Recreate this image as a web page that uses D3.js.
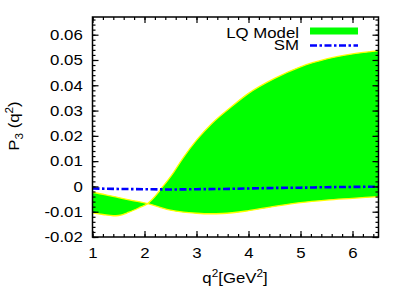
<!DOCTYPE html>
<html><head><meta charset="utf-8">
<script src="https://cdn.jsdelivr.net/npm/d3@7"></script>
<style>body{margin:0;background:#fff}svg text{font-family:"Liberation Sans",Arial,sans-serif;fill:#000}</style>
</head><body><svg id="c" width="409" height="300"></svg>
<script>
// Data
const qA = [1.0, 1.25, 1.5, 1.75, 2.06, 2.3, 2.5, 2.75, 3.0, 3.25, 3.5, 4.0, 4.5, 5.0, 5.5, 6.0, 6.5];
const curveA = [-0.0023, -0.0033, -0.0044, -0.0055, -0.0068, -0.0083, -0.0094, -0.0102, -0.0106, -0.0108, -0.0107, -0.0096, -0.0079, -0.0064, -0.0054, -0.0047, -0.0040];
const qB = [1.0, 1.2, 1.4, 1.5, 1.7, 1.9, 2.06, 2.2, 2.32, 2.54, 2.75, 3.0, 3.3, 3.67, 4.0, 4.5, 5.0, 5.5, 6.0, 6.5];
const curveB = [-0.0105, -0.0111, -0.0116, -0.0115, -0.0102, -0.0084, -0.0068, -0.0040, -0.0009, 0.0050, 0.0115, 0.0183, 0.0250, 0.0315, 0.0368, 0.0427, 0.0473, 0.0504, 0.0524, 0.0537];
const qSM = [1.0, 1.5, 2.0, 2.5, 3.0, 3.5, 4.0, 4.5, 5.0, 5.5, 6.0, 6.5];
const sm = [-0.0008, -0.0010, -0.0011, -0.0012, -0.0011, -0.0010, -0.0008, -0.0006, -0.0005, -0.0003, -0.0002, -0.0001];
const xTicks = [1, 2, 3, 4, 5, 6];
const yTicks = [-0.02, -0.01, 0, 0.01, 0.02, 0.03, 0.04, 0.05, 0.06];
const yTickLabels = ["-0.02", "-0.01", "0", "0.01", "0.02", "0.03", "0.04", "0.05", "0.06"];
const legendLabels = ["LQ Model", "SM"];

const SX = 1.12; // horizontal stretch of the reference's text
const FS = "15px";
const svg = d3.select("#c");
const L = 92.5, R = 378.5, T = 17, B = 237;
const x = d3.scaleLinear().domain([1, 6.5]).range([L, R]);
const y = d3.scaleLinear().domain([-0.02, 0.067]).range([B, T]);

svg.append("defs").append("clipPath").attr("id", "clip")
  .append("rect").attr("x", L).attr("y", T).attr("width", R - L).attr("height", B - T);

const g = svg.append("g").attr("clip-path", "url(#clip)");
const ptsA = qA.map((q, i) => [x(q), y(curveA[i])]);
const ptsB = qB.map((q, i) => [x(q), y(curveB[i])]);
const ln = d3.line().curve(d3.curveMonotoneX);
const pA = ln(ptsA);
const pBrev = d3.line().curve(d3.curveCatmullRom)(ptsB.slice().reverse());
g.append("path").attr("d", pA + "L" + pBrev.slice(1) + "Z")
  .attr("fill", "#00ff00").attr("stroke", "none");
g.append("path").attr("d", ln(ptsA)).attr("fill", "none").attr("stroke", "#ffff00").attr("stroke-width", 1.3);
g.append("path").attr("d", ln(ptsB)).attr("fill", "none").attr("stroke", "#ffff00").attr("stroke-width", 1.3);

// SM line
g.append("path").attr("d", d3.line().curve(d3.curveMonotoneX)(qSM.map((q, i) => [x(q), y(sm[i])])))
  .attr("fill", "none").attr("stroke", "#0000ff").attr("stroke-width", 2.6)
  .attr("stroke-dasharray", "7,2.5,2.5,2.5");

// Axes (ticks inward on all sides)
const axB = d3.axisBottom(x).tickValues(xTicks).tickSize(-6).tickPadding(10.5).tickFormat(d3.format("d"));
const axT = d3.axisTop(x).tickValues(xTicks).tickSize(-6).tickFormat("");
const axL = d3.axisLeft(y).tickValues(yTicks).tickSize(-6).tickPadding(8.7).tickFormat((d, i) => yTickLabels[i]);
const axR = d3.axisRight(y).tickValues(yTicks).tickSize(-6).tickFormat("");
const minorX = d3.range(1, 6.5001, 0.2).map(v => +v.toFixed(2));
const minorY = d3.range(-0.02, 0.067, 0.002).map(v => +v.toFixed(3));
const mB = d3.axisBottom(x).tickValues(minorX).tickSize(-3).tickFormat("");
const mT = d3.axisTop(x).tickValues(minorX).tickSize(-3).tickFormat("");
const mL = d3.axisLeft(y).tickValues(minorY).tickSize(-3).tickFormat("");
const mR = d3.axisRight(y).tickValues(minorY).tickSize(-3).tickFormat("");

function add(ax, tr) {
  const a = svg.append("g").attr("transform", tr).call(ax);
  a.select(".domain").remove();
  a.selectAll("line").attr("stroke", "#000").attr("stroke-width", 1.2);
  a.selectAll("text").style("font-size", FS).style("font-family", "'Liberation Sans',Arial,sans-serif")
    .attr("transform", `scale(${SX},1)`);
  return a;
}
add(mB, `translate(0,${B})`); add(mT, `translate(0,${T})`);
add(mL, `translate(${L},0)`); add(mR, `translate(${R},0)`);
add(axB, `translate(0,${B})`); add(axT, `translate(0,${T})`);
add(axL, `translate(${L},0)`); add(axR, `translate(${R},0)`);

svg.append("rect").attr("x", L).attr("y", T).attr("width", R - L).attr("height", B - T)
  .attr("fill", "none").attr("stroke", "#000").attr("stroke-width", 1.5);

// Legend
function ltext(txt, yy) {
  svg.append("g").attr("transform", `translate(299,${yy}) scale(${SX},1)`)
    .append("text").attr("text-anchor", "end").style("font-size", FS).text(txt);
}
ltext(legendLabels[0], 38.3);
svg.append("rect").attr("x", 310).attr("y", 27.5).attr("width", 48).attr("height", 7).attr("fill", "#00ff00");
ltext(legendLabels[1], 50.3);
svg.append("line").attr("x1", 310).attr("x2", 358).attr("y1", 45.5).attr("y2", 45.5)
  .attr("stroke", "#0000ff").attr("stroke-width", 2.6).attr("stroke-dasharray", "7,2.5,2.5,2.5");

// Axis titles
const xt = svg.append("g").attr("transform", `translate(235,283) scale(${SX},1)`)
  .append("text").attr("text-anchor", "middle").style("font-size", FS);
xt.append("tspan").text("q");
xt.append("tspan").attr("dy", -6).style("font-size", "10.5px").text("2");
xt.append("tspan").attr("dy", 6).text("[GeV");
xt.append("tspan").attr("dy", -6).style("font-size", "10.5px").text("2");
xt.append("tspan").attr("dy", 6).text("]");

const yt = svg.append("g").attr("transform", `translate(19,126) rotate(-90) scale(${SX},1)`)
  .append("text").attr("text-anchor", "middle").style("font-size", FS);
yt.append("tspan").text("P");
yt.append("tspan").attr("dy", 4).style("font-size", "10.5px").text("3");
yt.append("tspan").attr("dy", -4).text(" (q");
yt.append("tspan").attr("dy", -6).style("font-size", "10.5px").text("2");
yt.append("tspan").attr("dy", 6).text(")");
</script></body></html>
